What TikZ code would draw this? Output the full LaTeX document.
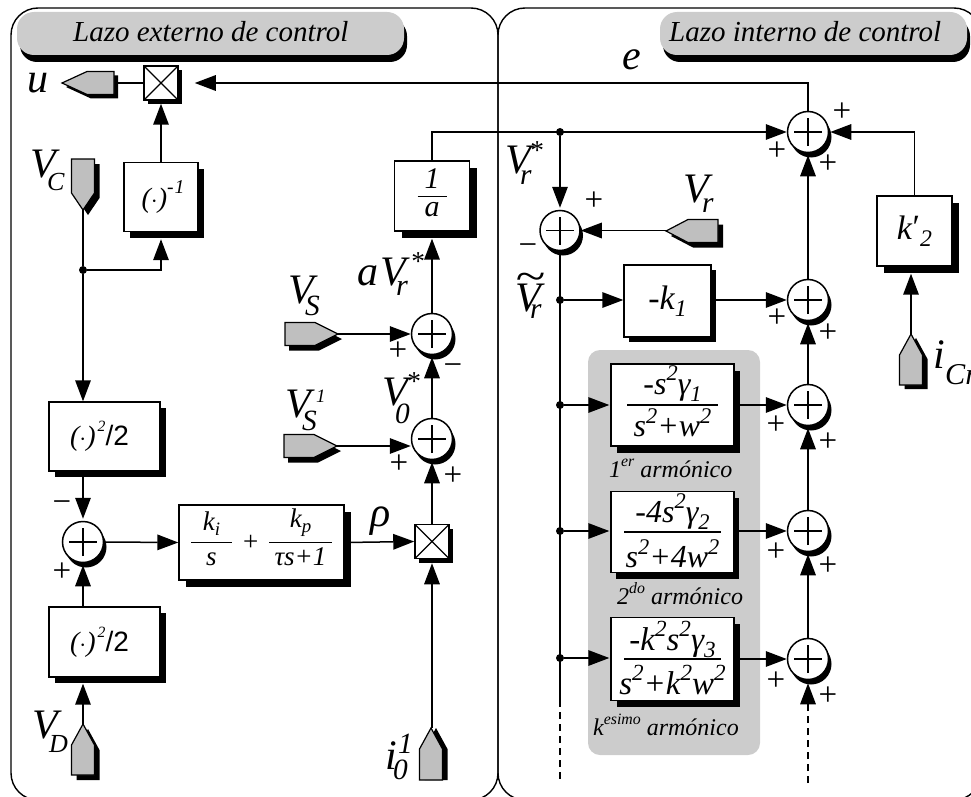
\documentclass[tikz,border=0pt]{standalone}
\usepackage{fontspec}
\setmainfont{Liberation Serif}
\newfontfamily\arialf{Liberation Sans}
\usetikzlibrary{arrows.meta,shadows,calc}
\newcommand\hi[2][.42em]{\raisebox{#1}{\scalebox{.7}{#2}}}
\newcommand\his[2][.5em]{\raisebox{#1}{\scalebox{.56}{#2}}}
\newcommand\hia[1]{\raisebox{.42em}{\scalebox{.66}{#1}}}
\newcommand\lo[2][-.22em]{\raisebox{#1}{\scalebox{.7}{#2}}}
% small text placed at dx, dy from the start of a label: scale, dx, dy, text
\newcommand\plc[4]{\rlap{\hspace*{#2pt}\raisebox{#3pt}{\scalebox{#1}{#4}}}}
% fraction: half height, width, numerator gap, denominator gap, rule, num, den
\newcommand\fr[7]{\vbox{\offinterlineskip\hsize=#2
 \setbox0=\hbox to #2{\hss#6\hss}\dp0=0pt \ht0=\dimexpr#1-#3\relax\box0
 \kern#3 \hrule height#5 \kern#4
 \setbox0=\hbox to #2{\hss#7\hss}\ht0=0pt \dp0=\dimexpr#1-#4\relax\box0}}
\newcommand\gtag[6]{% x,y,rot,length,shoulder,shadow offset
 \fill[black,shift={($(#1,#2)+(#6)$)},rotate=#3] (0,0) -- (-#5,11.5) -- (-#4,11.5) -- (-#4,-11.5) -- (-#5,-11.5) -- cycle;
 \draw[tagline,fill=taggray,shift={(#1,#2)},rotate=#3] (0,0) -- (-#5,11.5) -- (-#4,11.5) -- (-#4,-11.5) -- (-#5,-11.5) -- cycle;}
\definecolor{panelgray}{HTML}{CCCCCC}
\definecolor{taggray}{HTML}{BFBFBF}
\tikzset{
 x=1pt,y=-1pt,
 wire/.style={line width=1.5pt},
 tagline/.style={line width=1.2pt,line join=miter},
 arr/.style={wire,-{Triangle[length=21pt,width=15.5pt]}},
 blockbox/.style args={#1/#2/#3/#4}{draw,fill=white,line width=1.4pt,inner sep=0pt,minimum width=#1,minimum height=#2,
   general shadow={fill=black,shadow xshift=#3,shadow yshift=-#4}},
 sumn/.style={circle,draw,fill=white,line width=1.5pt,inner sep=0pt,minimum size=41pt,
   general shadow={fill=black,shadow xshift=3pt,shadow yshift=-5pt},
   path picture={\draw[line width=1.2pt] (path picture bounding box.center) +(-14pt,0pt) -- +(14pt,0pt) +(0pt,-14pt) -- +(0pt,14pt);}},
 multn/.style={rectangle,draw,fill=white,line width=1.5pt,inner sep=0pt,minimum width=34pt,minimum height=34pt,
   general shadow={fill=black,shadow xshift=4pt,shadow yshift=-4pt},
   path picture={\draw[line width=1.2pt] (path picture bounding box.north west) -- (path picture bounding box.south east)
     (path picture bounding box.north east) -- (path picture bounding box.south west);}},
 dotn/.style={circle,fill=black,inner sep=0pt,minimum size=8pt},
 pill/.style={fill=panelgray,rounded corners=17pt,inner sep=0pt,general shadow={fill=black,shadow xshift=3pt,shadow yshift=-7pt}},
 lab/.style={inner sep=0pt,anchor=base west,font=\itshape\fontsize{#1}{#1}\selectfont},
 boxt/.style={font=\itshape\fontsize{#1}{#1}\selectfont},
 sign/.style={inner sep=0pt,font=\fontsize{33}{33}\selectfont},
}
\begin{document}
\begin{tikzpicture}
\useasboundingbox (0,0) rectangle (971,797);
\begin{scope}
\clip (0,0) rectangle (971,797);
% panels
\draw[line width=1.4pt,rounded corners=27pt] (11,8) rectangle (498,800);
\draw[line width=1.4pt,rounded corners=27pt] (498,8) rectangle (981,800);
\fill[panelgray,rounded corners=12pt] (588,350) rectangle (760,755);
% title pills
\node[pill,minimum width=387pt,minimum height=43pt] (tl) at (210.5,33.5) {};
\node[pill,minimum width=307pt,minimum height=43pt] (tr) at (813.5,33.5) {};
\node[lab=29] (tlt) at (73,42) {Lazo externo de control};
\node[lab=29] (trt) at (669,42) {Lazo interno de control};
% left column blocks
\node[multn] (m1) at (161,83) {};
\node[blockbox=74pt/69pt/6pt/6pt,boxt=28] (inv) at (161,197) {\hspace*{4pt}(\textbf{$\cdot$})\hi[.5em]{-\kern.05em1}};
\node[blockbox=75pt/70pt/7pt/7pt,boxt=30] (oa) at (432,196) {\fr{30pt}{29pt}{7pt}{20pt}{1pt}{1}{a}};
\node[blockbox=111pt/69pt/6pt/6pt,boxt=28] (sq1) at (104.5,436.5) {(\textbf{$\cdot$})\kern2pt\his{2}{\arialf\upshape /2}\hspace*{10pt}};
\node[blockbox=111pt/70pt/6pt/6pt,boxt=28] (sq2) at (104.5,642) {(\textbf{$\cdot$})\kern2pt\his{2}{\arialf\upshape /2}\hspace*{10pt}};
\node[blockbox=165pt/75pt/7pt/7pt,boxt=27] (pi) at (261.5,542.5) {\hbox{\fr{30pt}{41pt}{12pt}{22pt}{1pt}{k\lo{i}}{s}\hbox to 37pt{\hss\raisebox{15pt}{+}\hss}\fr{30pt}{63pt}{15pt}{22pt}{1pt}{k\lo{p}}{τs+1}}};
\node[multn] (m2) at (432,541.5) {};
\node[sumn] (sA) at (83,542) {};
\node[sumn] (sB) at (432,334) {};
\node[sumn] (sC) at (432,439) {};
% right column blocks
\node[sumn] (s1) at (808,132) {};
\node[sumn] (s5) at (808,300) {};
\node[sumn] (s6) at (808,405) {};
\node[sumn] (s7) at (808,531) {};
\node[sumn] (s8) at (808,659) {};
\node[sumn,minimum size=40pt] (s4) at (560,230.5) {};
\node[blockbox=87pt/72pt/5pt/5pt,boxt=34] (k1) at (667.5,301) {-k\lo{1}};
\node[blockbox=75pt/70pt/7pt/7pt,boxt=34] (k2) at (914.5,231) {k\kern.02em\raisebox{.02em}{\upshape ′}\lo{2}};
\node[blockbox=123pt/82pt/6pt/7pt,boxt=32] (h1) at (672.5,405) {\fr{36pt}{91pt}{10pt}{31pt}{1.3pt}{-s\hi{2}γ\lo{1}}{s\hi{2}+w\hi{2}}};
\node[blockbox=123pt/81pt/5pt/6pt,boxt=32] (h2) at (672.5,532) {\fr{36pt}{97pt}{9pt}{35pt}{1.3pt}{-4s\hi{2}γ\lo{2}}{s\hi{2}+4w\hi{2}}};
\node[blockbox=123pt/83pt/6pt/6pt,boxt=33] (h3) at (672.5,659) {\fr{36pt}{97pt}{8pt}{35pt}{1.3pt}{-k\hi{2}s\hi{2}γ\lo{3}}{s\hi{2}+k\hi{2}w\hi{2}}};
% free ends
\coordinate (uB) at (118,83);
\coordinate (vcT) at (83,210);
\coordinate (vdT) at (83,724);
\coordinate (vsT) at (338,334);
\coordinate (vs1T) at (337,446);
\coordinate (i0T) at (432,728);
\coordinate (vrT) at (666,230.5);
\coordinate (icT) at (911,334);
\coordinate (lineEnd) at (560,700);
\coordinate (lineDash) at (560,783);
\coordinate (rStart) at (808,783);
\coordinate (rBase) at (808,702);
% junctions
\node[dotn] (dc) at (83,270) {};
\node[dotn] (dr) at (560,132) {};
\node[dotn] (d0) at (560,300) {};
\node[dotn] (d1) at (560,405) {};
\node[dotn] (d2) at (560,531) {};
\node[dotn] (d3) at (560,658) {};
% connectors
\draw[arr,shorten >=16pt] (s1.north) |- (m1.east);
\draw[wire] (m1.west) -- (uB);
\draw[arr,shorten >=3pt] (inv.north) -- (m1.south);
\draw[wire] (vcT) -- (dc);
\draw[arr,shorten >=7pt] (dc) -| (inv.south);
\draw[arr] (dc) -- (dc |- sq1.north);
\draw[arr,shorten >=2pt] (sA |- sq1.south) -- (sA.north);
\draw[arr,shorten >=2pt] (sA |- sq2.north) -- (sA.south);
\draw[arr,shorten >=6pt] (vdT) -- (vdT |- sq2.south);
\draw[arr] (sA.east) -- (pi.west);
\draw[arr] (pi.east) -- (m2.west);
\draw[arr,shorten >=4pt] (i0T) -- (m2.south);
\draw[arr,shorten >=2pt] (m2.north) -- (sC.south);
\draw[arr,shorten >=2pt] (sC.north) -- (sB.south);
\draw[arr,shorten >=7pt] (sB.north) -- (oa.south);
\draw[arr] (vsT) -- (vsT -| sB.west);
\draw[arr] (vs1T) -- (vs1T -| sC.west);
\draw[arr] (oa.north) |- (s1.west);
\draw[arr,shorten >=2pt] (dr) -- (s4.north);
\draw[arr] (vrT) -- (s4.east);
\draw[wire] (s4.south) -- (lineEnd);
\draw[wire,dash pattern=on 7pt off 5pt] (lineEnd) -- (lineDash);
\draw[arr] (d0) -- (d0 -| k1.west);
\draw[arr] (k1.east |- s5) -- (s5.west);
\draw[arr,shorten >=1pt] (d1) -- (h1.west);
\draw[arr,shorten >=1pt] (d2) -- (d2 -| h2.west);
\draw[arr,shorten >=1pt] (d3) -- (d3 -| h3.west);
\draw[arr] (h1.east) -- (s6.west);
\draw[arr] (h2.east |- s7) -- (s7.west);
\draw[arr] (h3.east |- s8) -- (s8.west);
\draw[arr,shorten >=2pt] (s5.north) -- (s1.south);
\draw[arr,shorten >=2pt] (s6.north) -- (s5.south);
\draw[arr,shorten >=2pt] (s7.north) -- (s6.south);
\draw[arr,shorten >=2pt] (s8.north) -- (s7.south);
\draw[wire,dash pattern=on 7pt off 5pt] (rStart) -- (rBase);
\draw[arr,shorten >=3pt] (rBase) -- (s8.south);
\draw[arr,shorten >=1pt] (k2.north) |- (s1.east);
\draw[arr,shorten >=7pt] (icT) -- (icT |- k2.south);
% signal tags
\gtag{62}{83}{180}{52}{25}{4,4}
\gtag{83}{210}{-90}{51}{17}{5,5}
\gtag{83}{724}{90}{51}{21}{5,5}
\gtag{338}{334}{0}{53}{23}{4,5}
\gtag{337}{446}{0}{53}{23}{4,5}
\gtag{431}{728}{90}{52}{21}{5,0}
\gtag{666}{231}{180}{52}{22}{5,5}
\gtag{911}{334}{90}{51}{21}{5,4}
% labels
\node[lab=42] (lu) at (27,93) {u};
\node[lab=42] (lvc) at (30,177) {\plc{.62}{17}{-13}{C}V};
\node[lab=42] (lvd) at (32,738) {\plc{.62}{17}{-14}{D}V};
\node[lab=42] (lvs) at (288,303) {\plc{.7}{17}{-12}{S}V};
\node[lab=42] (lvs1) at (285,417) {\plc{.7}{17}{-13}{S}\plc{.45}{31}{15}{1}V};
\node[lab=42] (lavr) at (357,285) {\plc{.72}{39}{-10}{r}\plc{.65}{53}{15}{*}a\kern.05emV};
\node[lab=42] (lv0) at (382,405) {\plc{.7}{13}{-18}{0}\plc{.65}{24}{15}{*}V};
\node[lab=42] (li0) at (385,769) {\plc{.7}{8}{-10}{0}\plc{.7}{13}{16}{1}i};
\node[lab=42] (lrho) at (370,526) {ρ};
\node[lab=42] (le) at (622,70) {e};
\node[lab=42] (lvrs) at (505,173) {\plc{.7}{15}{-11}{r}\plc{.65}{24}{14}{*}V};
\node[lab=42] (lvr) at (683,202) {\plc{.7}{19}{-10}{r}V};
\node[lab=42] (lvt) at (515,311) {\plc{.7}{15}{-7}{r}\plc{1}{0}{21}{\scalebox{1.3}[1]{\textasciitilde}}V};
\node[lab=42] (lic) at (933,368) {\plc{.72}{12}{-16}{Cr}i};
\node[lab=24] (la1) at (609,477) {1\hia{er} armónico};
\node[lab=24] (la2) at (617,604) {2\hia{do} armónico};
\node[lab=24] (la3) at (593,735) {k\hia{esimo} armónico};
% signs
\node[sign] (p1) at (842,112) {+};
\node[sign] (p2) at (777,151) {+};
\node[sign] (p3) at (828,164) {+};
\node[sign] (p4) at (594,201) {+};
\node[sign] (n1) at (528,250) {−};
\node[sign] (p5) at (777,318) {+};
\node[sign] (p6) at (828,333) {+};
\node[sign] (p7) at (776,425) {+};
\node[sign] (p8) at (828,442) {+};
\node[sign] (p9) at (776,552) {+};
\node[sign] (p10) at (828,566) {+};
\node[sign] (p11) at (776,681) {+};
\node[sign] (p12) at (828,696) {+};
\node[sign] (n2) at (62,507) {−};
\node[sign] (p13) at (62,572) {+};
\node[sign] (p14) at (398,351) {+};
\node[sign] (n3) at (453,370) {−};
\node[sign] (p15) at (399,464) {+};
\node[sign] (p16) at (453,476) {+};
\end{scope}
\end{tikzpicture}
\end{document}
